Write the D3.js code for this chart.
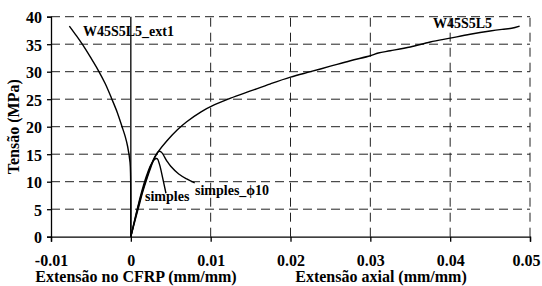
<!DOCTYPE html>
<html>
<head>
<meta charset="utf-8">
<script src="https://cdn.jsdelivr.net/npm/d3@7"></script>
<style>
  body { margin: 0; background: #fff; }
  text { font-family: "Liberation Serif", "Times New Roman", serif; font-weight: bold; fill: #000; }
</style>
</head>
<body>
<div id="chart"></div>
<script>
// tick values
const xTicks = [-0.01, 0, 0.01, 0.02, 0.03, 0.04, 0.05];
const yTicks = [0, 5, 10, 15, 20, 25, 30, 35, 40];

// series: [strain, stress]
const w45s5l5 = [[0,0],[0.0005,3.0],[0.001,5.9],[0.0015,8.5],[0.002,10.8],[0.0025,12.9],[0.003,14.5],
  [0.0035,15.6],[0.0045,17.4],[0.0058,19.4],[0.007,20.9],[0.0088,22.7],[0.0105,24.0],[0.0125,25.2],
  [0.015,26.5],[0.0175,27.8],[0.02,29.0],[0.0225,30.0],[0.025,31.0],[0.0275,32.0],[0.03,32.9],
  [0.031,33.4],[0.0325,33.8],[0.035,34.5],[0.0375,35.4],[0.04,36.1],[0.0425,36.8],[0.045,37.4],
  [0.0465,37.7],[0.0477,37.9],[0.0487,38.3]];
const w45s5l5Ext1 = [[0,0],[0,6],[-0.00003,11],[-0.0001,13.5],[-0.0004,16.4],[-0.0007,18.2],
  [-0.0011,20],[-0.0017,22.6],[-0.0024,25.1],[-0.0032,27.8],[-0.0041,30.3],[-0.005,32.5],
  [-0.0059,34.6],[-0.0068,36.5],[-0.0077,38.3]];
const simples = [[0,0],[0.0005,3.2],[0.001,6.2],[0.0015,8.9],[0.002,11.2],[0.0025,13.0],[0.003,14.1],
  [0.0033,14.2],[0.0036,13.1],[0.004,10.6],[0.0044,7.9]];
const simplesPhi10 = [[0,0],[0.0005,2.8],[0.001,5.5],[0.0015,8.2],[0.002,10.5],[0.0025,12.6],[0.003,14.4],
  [0.0035,15.5],[0.0038,15.4],[0.0045,13.8],[0.005,12.8],[0.006,11.4],[0.007,10.5],[0.008,9.8]];

const width = 542, height = 286;
const plot = { left: 51, right: 530, top: 16.7, bottom: 236.7 };

const svg = d3.select('#chart').append('svg')
    .attr('width', width)
    .attr('height', height);

const x = d3.scaleLinear().domain([-0.01, 0.05]).range([plot.left, plot.right]);
const y = d3.scaleLinear().domain([0, 40]).range([plot.bottom, plot.top]);

// dashed grid
svg.append('g').selectAll('line')
    .data(yTicks.filter(d => d > 0))
    .enter().append('line')
    .attr('x1', x(-0.01)).attr('x2', x(0.05))
    .attr('y1', d => y(d)).attr('y2', d => y(d))
    .attr('stroke', '#222').attr('stroke-width', 1)
    .attr('stroke-dasharray', '9,5');

svg.append('g').selectAll('line')
    .data(xTicks.filter(d => d > 0))
    .enter().append('line')
    .attr('x1', d => x(d)).attr('x2', d => x(d))
    .attr('y1', y(0)).attr('y2', y(40))
    .attr('stroke', '#222').attr('stroke-width', 1)
    .attr('stroke-dasharray', '9,6');

// solid line at zero strain
svg.append('line')
    .attr('x1', x(0)).attr('x2', x(0))
    .attr('y1', y(0)).attr('y2', y(40))
    .attr('stroke', '#000').attr('stroke-width', 1.3);

// axes
const xAxis = d3.axisBottom(x)
    .tickValues(xTicks)
    .tickSize(5)
    .tickFormat(d => d === 0 ? '0' : String(+d.toFixed(2)));
const xAxis_g = svg.append('g')
    .attr('transform', `translate(0, ${y(0)})`)
    .call(xAxis);
xAxis_g.selectAll('text')
    .attr('y', 29).attr('dy', 0)
    .style('font-size', '16px');
// last label kept inside the page
xAxis_g.selectAll('.tick text')
    .filter(d => d === 0.05)
    .attr('text-anchor', 'end')
    .attr('x', width - 2 - x(0.05));

const yAxis = d3.axisLeft(y)
    .tickValues(yTicks)
    .tickSize(4)
    .tickPadding(5);
const yAxis_g = svg.append('g')
    .attr('transform', `translate(${x(-0.01)}, 0)`)
    .call(yAxis);
yAxis_g.selectAll('text')
    .attr('dy', '0.38em')
    .style('font-size', '16px');

svg.selectAll('.domain, .tick line')
    .attr('stroke', '#000').attr('stroke-width', 1.3);
svg.selectAll('.tick text').attr('fill', '#000');

// curves
const line = d3.line()
    .x(d => x(d[0]))
    .y(d => y(d[1]))
    .curve(d3.curveCatmullRom);

[w45s5l5, w45s5l5Ext1, simples, simplesPhi10].forEach(s => {
    svg.append('path')
        .datum(s)
        .attr('d', line)
        .attr('fill', 'none')
        .attr('stroke', '#000')
        .attr('stroke-width', 1.4);
});

// curve labels
const labels = [
    { t: 'W45S5L5_ext1', x: 83, y: 36 },
    { t: 'W45S5L5', x: 433, y: 28 },
    { t: 'simples', x: 145, y: 201 },
    { t: 'simples_ϕ10', x: 195, y: 195 }
];
svg.selectAll('.lbl')
    .data(labels)
    .enter().append('text')
    .attr('class', 'lbl')
    .attr('x', d => d.x)
    .attr('y', d => d.y)
    .style('font-size', '14px')
    .text(d => d.t);

// axis titles
svg.append('text')
    .attr('x', 136).attr('y', 282)
    .attr('text-anchor', 'middle')
    .style('font-size', '16px')
    .text('Extensão no CFRP (mm/mm)');
svg.append('text')
    .attr('x', 381).attr('y', 282)
    .attr('text-anchor', 'middle')
    .style('font-size', '16px')
    .text('Extensão axial (mm/mm)');
svg.append('text')
    .attr('transform', `translate(19, ${(plot.top + plot.bottom) / 2}) rotate(-90)`)
    .attr('text-anchor', 'middle')
    .style('font-size', '16px')
    .text('Tensão (MPa)');
</script>
</body>
</html>
